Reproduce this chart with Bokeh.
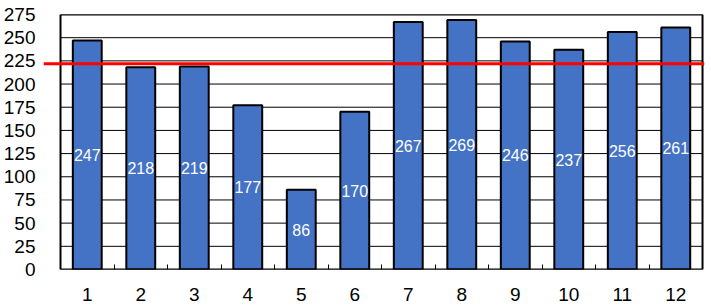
from bokeh.plotting import figure
from bokeh.models import Range1d, FixedTicker, Span, ColumnDataSource
from bokeh.core.properties import value
from bokeh.embed import file_html
from bokeh.resources import INLINE

months = list(range(1, 13))
counts = [247, 218, 219, 177, 86, 170, 267, 269, 246, 237, 256, 261]
average = 222
y_ticks = list(range(0, 276, 25))
y_max = 275

FONT = "Liberation Sans"

p = figure(width=711, height=306, output_backend="svg", toolbar_location=None,
           x_range=Range1d(0.5 - 0.318, 12.5 + 0.037), y_range=Range1d(0, y_max),
           min_border_left=43, min_border_right=7, min_border_top=14, min_border_bottom=37)
p.outline_line_color = None
p.xgrid.visible = False
p.ygrid.visible = False
p.background_fill_color = "white"
p.border_fill_color = "white"

lo = min(months) - 0.5
hi = max(months) + 0.5

# gridlines within the plot box
p.segment(x0=[lo] * len(y_ticks), x1=[hi] * len(y_ticks), y0=y_ticks, y1=y_ticks,
          line_color="black", line_width=1)

src = ColumnDataSource(dict(x=months, top=counts, mid=[c / 2 for c in counts],
                            lab=[str(c) for c in counts]))
p.vbar(x="x", top="top", bottom=0, width=0.54, source=src,
       fill_color="#4472C4", line_color="black", line_width=2)
p.text(x="x", y="mid", text="lab", source=src, text_color="white",
       text_font=value(FONT), text_font_size="16px",
       text_align="center", text_baseline="middle")

# plot box border
p.quad(left=[lo], right=[hi], bottom=[0], top=[y_max], fill_color=None,
       line_color="black", line_width=2)

p.add_layout(Span(location=average, dimension="width", line_color="#FF0000", line_width=3))

p.xaxis.ticker = FixedTicker(ticks=months, minor_ticks=[m + 0.5 for m in months[:-1]])
p.xaxis.axis_line_color = None
p.xaxis.major_tick_line_color = None
p.xaxis.minor_tick_in = 5
p.xaxis.minor_tick_out = 0
p.xaxis.minor_tick_line_color = "black"
p.xaxis.minor_tick_line_width = 1
p.xaxis.major_label_text_font = FONT
p.xaxis.major_label_text_font_size = "19px"
p.xaxis.major_label_text_color = "black"
p.xaxis.major_label_standoff = 12

p.yaxis.ticker = FixedTicker(ticks=y_ticks)
p.yaxis.axis_line_color = None
p.yaxis.major_tick_line_color = None
p.yaxis.minor_tick_line_color = None
p.yaxis.major_tick_out = 0
p.yaxis.major_label_text_font = FONT
p.yaxis.major_label_text_font_size = "19px"
p.yaxis.major_label_text_color = "black"
p.yaxis.major_label_standoff = 8

open("out.html", "w").write(file_html(p, INLINE))
